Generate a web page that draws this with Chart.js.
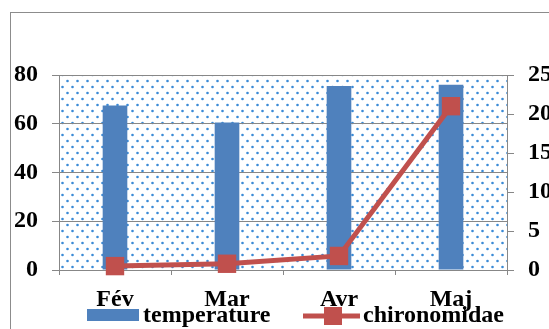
<!DOCTYPE html>
<html>
<head>
<meta charset="utf-8">
<script src="https://cdn.jsdelivr.net/npm/chart.js@4/dist/chart.umd.min.js"></script>
<style>
  html, body { margin: 0; padding: 0; background: #fff; }
  #wrap { width: 549px; height: 329px; }
</style>
</head>
<body>
<div id="wrap"><canvas id="chart" width="549" height="329"></canvas></div>
<script>
var months = ["Fév", "Mar", "Avr", "Maj"];
var temperature = [67.5, 60.5, 75.5, 76];
var chironomidae = [0.5, 0.8, 1.8, 21];
var leftTicks = [0, 20, 40, 60, 80];
var rightTicks = [0, 5, 10, 15, 20, 25];

var BLUE = "#4F81BD";
var RED = "#C0504D";
var GRID = "#878787";
var FONT = { family: "'Liberation Serif', 'Times New Roman', serif", size: 24, weight: "bold" };

// white fill with staggered blue dots, like the excel pattern fill
function dotPattern() {
    var c = document.createElement("canvas");
    c.width = 10; c.height = 12;
    var g = c.getContext("2d");
    g.fillStyle = "#fff";
    g.fillRect(0, 0, 10, 12);
    g.fillStyle = "#3a8ad6";
    [[2.5, 3], [7.5, 9]].forEach(function (p) {
        g.beginPath();
        g.arc(p[0], p[1], 1.3, 0, Math.PI * 2);
        g.fill();
    });
    return g.createPattern(c, "repeat");
}

var plotBg = {
    id: "plotBg",
    beforeDraw: function (chart) {
        var ctx = chart.ctx, a = chart.chartArea;
        ctx.save();
        // outer frame
        ctx.strokeStyle = "#8c8c8c";
        ctx.lineWidth = 1;
        ctx.strokeRect(10.5, 12.5, 600, 400);
        ctx.fillStyle = dotPattern();
        ctx.fillRect(a.left, a.top, a.right - a.left, a.bottom - a.top);
        ctx.restore();
    }
};

var legendPlugin = {
    id: "customLegend",
    afterDraw: function (chart) {
        var ctx = chart.ctx;
        ctx.save();
        ctx.font = "bold 24px 'Liberation Serif', 'Times New Roman', serif";
        ctx.textBaseline = "alphabetic";
        // temperature
        ctx.fillStyle = BLUE;
        ctx.fillRect(87, 309, 52, 12);
        ctx.fillStyle = "#000";
        ctx.fillText(chart.data.datasets[1].label, 143, 322);
        // chironomidae
        ctx.strokeStyle = RED;
        ctx.lineWidth = 5;
        ctx.beginPath();
        ctx.moveTo(303, 316);
        ctx.lineTo(360, 316);
        ctx.stroke();
        ctx.fillStyle = RED;
        ctx.fillRect(324, 307, 18, 18);
        ctx.fillStyle = "#000";
        ctx.fillText(chart.data.datasets[0].label, 363, 322);
        ctx.restore();
    }
};

new Chart(document.getElementById("chart"), {
    data: {
        labels: months,
        datasets: [
            {
                type: "line",
                label: "chironomidae",
                data: chironomidae,
                yAxisID: "y1",
                borderColor: RED,
                backgroundColor: RED,
                borderWidth: 5,
                pointStyle: "rect",
                pointRadius: 13,
                pointBorderWidth: 0,
                pointBackgroundColor: RED,
                clip: false,
                order: 0
            },
            {
                type: "bar",
                label: "temperature",
                data: temperature,
                yAxisID: "y",
                backgroundColor: BLUE,
                categoryPercentage: 1,
                barPercentage: 0.22,
                order: 1
            }
        ]
    },
    options: {
        responsive: false,
        animation: false,
        events: [],
        layout: { padding: { top: 75, left: 0, right: 0, bottom: 0 } },
        plugins: { legend: { display: false }, tooltip: { enabled: false } },
        scales: {
            x: {
                offset: true,
                grid: { offset: true, drawOnChartArea: false, tickLength: 5, color: GRID },
                border: { color: GRID },
                ticks: { font: FONT, color: "#000", padding: 10, maxRotation: 0 },
                afterFit: function (s) { s.height = 59; }
            },
            y: {
                position: "left",
                min: 0, max: 80,
                afterBuildTicks: function (s) { s.ticks = leftTicks.map(function (v) { return { value: v }; }); },
                grid: { color: GRID, tickLength: 7 },
                border: { color: GRID },
                ticks: { font: FONT, color: "#000", padding: 14 },
                afterFit: function (s) { s.width = 59; }
            },
            y1: {
                position: "right",
                min: 0, max: 25,
                afterBuildTicks: function (s) { s.ticks = rightTicks.map(function (v) { return { value: v }; }); },
                grid: { drawOnChartArea: false, color: GRID, tickLength: 7 },
                border: { color: GRID },
                ticks: { font: FONT, color: "#000", padding: 14 },
                afterFit: function (s) { s.width = 42; }
            }
        }
    },
    plugins: [plotBg, legendPlugin]
});
</script>
</body>
</html>
